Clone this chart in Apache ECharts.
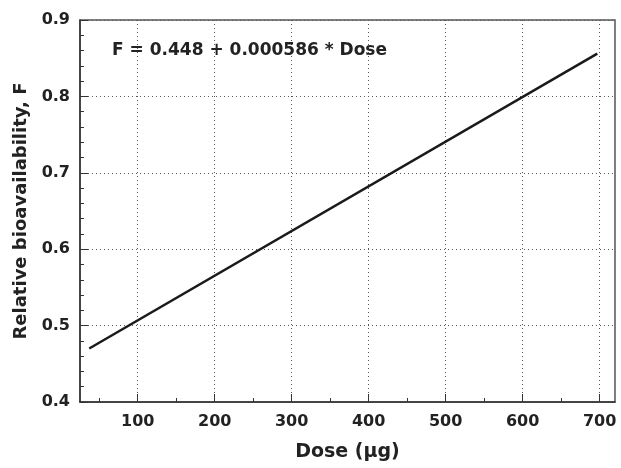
<!DOCTYPE html>
<html>
<head>
<meta charset="utf-8">
<script src="https://cdn.jsdelivr.net/npm/echarts@6/dist/echarts.min.js"></script>
<style>
  html, body { margin: 0; padding: 0; background: #fff; }
  #chart { width: 621px; height: 468px; }
</style>
</head>
<body>
<div id="chart"></div>
<script>
// fitted line end points (dose, F)
const doseValues = [37, 697];
const fValues = [0.470, 0.856];
const xTickValues = [100, 200, 300, 400, 500, 600, 700];
const xMinorValues = [50, 150, 250, 350, 450, 550, 650];
const equationText = 'F = 0.448 + 0.000586 * Dose';

const font = '"DejaVu Sans", sans-serif';
const axisColor = '#333';

const chart = echarts.init(document.getElementById('chart'));
chart.setOption({
  animation: false,
  title: {
    text: equationText,
    left: 107,
    top: 37,
    textStyle: { fontFamily: font, fontWeight: 'bold', fontSize: 17, color: '#222' }
  },
  grid: {
    left: 80, right: 6, top: 20, bottom: 66,
    outerBoundsMode: 'none',
    show: true,
    borderColor: '#555',
    borderWidth: 1.5
  },
  xAxis: [
    {
      type: 'value',
      min: 25,
      max: 720,
      name: 'Dose (\u03bcg)',
      nameLocation: 'middle',
      nameGap: 41,
      nameTextStyle: { fontFamily: font, fontWeight: 'bold', fontSize: 19, color: '#222' },
      axisLine: { show: true, lineStyle: { color: axisColor, width: 1.5 } },
      axisTick: { show: true, inside: true, length: 8, customValues: xTickValues, lineStyle: { color: axisColor, width: 1 } },
      axisLabel: {
        customValues: xTickValues, margin: 12,
        fontFamily: font, fontWeight: 'bold', fontSize: 16, color: '#222'
      },
      splitLine: { show: true, lineStyle: { type: [1, 3], color: '#555', width: 1 } }
    },
    {
      type: 'value',
      position: 'bottom',
      min: 25,
      max: 720,
      axisLine: { show: false },
      axisTick: { show: true, inside: true, length: 4, customValues: xMinorValues, lineStyle: { color: axisColor, width: 1 } },
      axisLabel: { show: false },
      splitLine: { show: false }
    }
  ],
  yAxis: {
    type: 'value',
    min: 0.4,
    max: 0.9,
    interval: 0.1,
    name: 'Relative bioavailability, F',
    nameLocation: 'middle',
    nameGap: 47,
    nameTextStyle: { fontFamily: font, fontWeight: 'bold', fontSize: 18, color: '#222' },
    axisLine: { show: true, lineStyle: { color: axisColor, width: 1.5 } },
    axisTick: { show: true, inside: true, length: 8, lineStyle: { color: axisColor, width: 1 } },
    minorTick: { show: true, splitNumber: 5, length: 4, lineStyle: { color: axisColor, width: 1 } },
    axisLabel: {
      margin: 10,
      formatter: v => v.toFixed(1),
      fontFamily: font, fontWeight: 'bold', fontSize: 16, color: '#222'
    },
    splitLine: { show: true, lineStyle: { type: [1, 3], color: '#555', width: 1 } }
  },
  series: [{
    type: 'line',
    xAxisIndex: 0,
    data: doseValues.map((d, i) => [d, fValues[i]]),
    symbol: 'none',
    lineStyle: { color: '#1a1a1a', width: 2.5 }
  }]
});
</script>
</body>
</html>
